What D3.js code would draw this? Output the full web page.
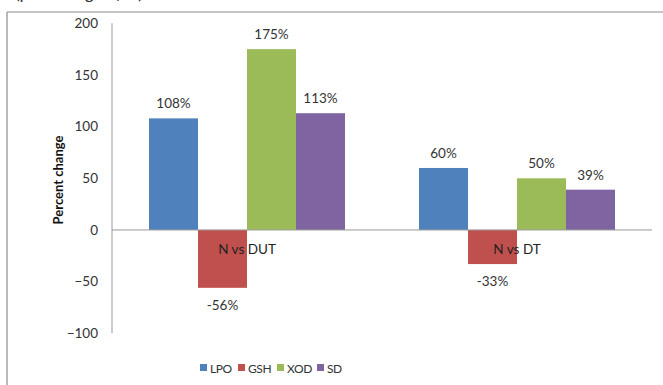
<!DOCTYPE html>
<html><head><meta charset="utf-8">
<script src="https://cdn.jsdelivr.net/npm/d3@7"></script>
<style>body{margin:0;background:#fff}svg{display:block}</style>
</head><body>
<script>
const categories = ["N vs DUT", "N vs DT"];
const seriesNames = ["LPO", "GSH", "XOD", "SD"];
const LPO = [108, 60];
const GSH = [-56, -33];
const XOD = [175, 50];
const SD = [113, 39];
const seriesValues = [LPO, GSH, XOD, SD];
const yTicks = [200, 150, 100, 50, 0, -50, -100];
const colors = ["#4F81BD", "#C0504D", "#9BBB59", "#8064A2"];

const W = 663, H = 385;
const font = "Lato, 'Open Sans', sans-serif";
const svg = d3.select("body").append("svg").attr("width", W).attr("height", H);

// partial title cut off at top (only descenders visible, as in the reference)
svg.append("text").attr("x", 16).attr("y", -1).attr("font-family", font)
  .attr("font-style", "italic").attr("font-size", 18).attr("fill", "#333")
  .text("(percentage of N)");

// outer frame (top and left visible)
svg.append("line").attr("x1", 7).attr("x2", W).attr("y1", 12).attr("y2", 12).attr("stroke", "#8c8c8c").attr("stroke-width", 1.2);
svg.append("line").attr("x1", 7).attr("x2", 7).attr("y1", 12).attr("y2", H).attr("stroke", "#8c8c8c").attr("stroke-width", 1.2);

const x0 = d3.scaleBand().domain(categories).range([112, 652]).paddingInner(0).paddingOuter(0);
const inner = 196 / 270;
const x1 = d3.scaleBand().domain(seriesNames).range([0, x0.bandwidth() * inner]);
const y = d3.scaleLinear().domain([-100, 200]).range([333.3, 23.3]);

// y axis
const yAxis = d3.axisLeft(y).tickValues(yTicks).tickSize(0).tickPadding(14).tickFormat(d3.format("d"));
const gy = svg.append("g").attr("transform", "translate(112,0)").call(yAxis);
gy.select(".domain").attr("stroke", "#999").attr("d", `M0,${y(200)}V${y(-100)}`);
gy.selectAll("text").attr("font-family", font).attr("font-size", 13.5).attr("fill", "#333");

svg.append("text").attr("transform", `translate(63,180) rotate(-90)`).attr("text-anchor", "middle")
  .attr("font-family", font).attr("font-size", 13).attr("font-weight", "bold").attr("fill", "#111")
  .text("Percent change");

// bars
const groupOffset = (x0.bandwidth() - x0.bandwidth() * inner) / 2;
categories.forEach((cat, ci) => {
  const g = svg.append("g").attr("transform", `translate(${x0(cat) + groupOffset},0)`);
  seriesNames.forEach((s, si) => {
    const v = seriesValues[si][ci];
    g.append("rect").attr("x", x1(s)).attr("width", x1.bandwidth())
      .attr("y", y(Math.max(0, v))).attr("height", Math.abs(y(v) - y(0)))
      .attr("fill", colors[si]);
  });
});

// zero line
svg.append("line").attr("x1", 112).attr("x2", 652).attr("y1", y(0)).attr("y2", y(0)).attr("stroke", "#999");

// value labels
categories.forEach((cat, ci) => {
  seriesNames.forEach((s, si) => {
    const v = seriesValues[si][ci];
    const cx = x0(cat) + groupOffset + x1(s) + x1.bandwidth() / 2;
    svg.append("text").attr("x", cx).attr("y", v >= 0 ? y(v) - 10 : y(v) + 22)
      .attr("text-anchor", "middle").attr("font-family", font).attr("font-size", 13.5).attr("fill", "#333")
      .text(v + "%");
  });
  svg.append("text").attr("x", x0(cat) + x0.bandwidth() / 2).attr("y", y(0) + 24)
    .attr("text-anchor", "middle").attr("font-family", font).attr("font-size", 13.5).attr("fill", "#222")
    .text(cat);
});

// legend
const legX = [200, 238, 277, 317];
seriesNames.forEach((s, si) => {
  svg.append("rect").attr("x", legX[si]).attr("y", 364).attr("width", 7).attr("height", 7).attr("fill", colors[si]);
  svg.append("text").attr("x", legX[si] + 10).attr("y", 372.5).attr("font-family", font)
    .attr("font-size", 12).attr("letter-spacing", -0.4).attr("fill", "#333").text(s);
});
</script>
</body></html>
